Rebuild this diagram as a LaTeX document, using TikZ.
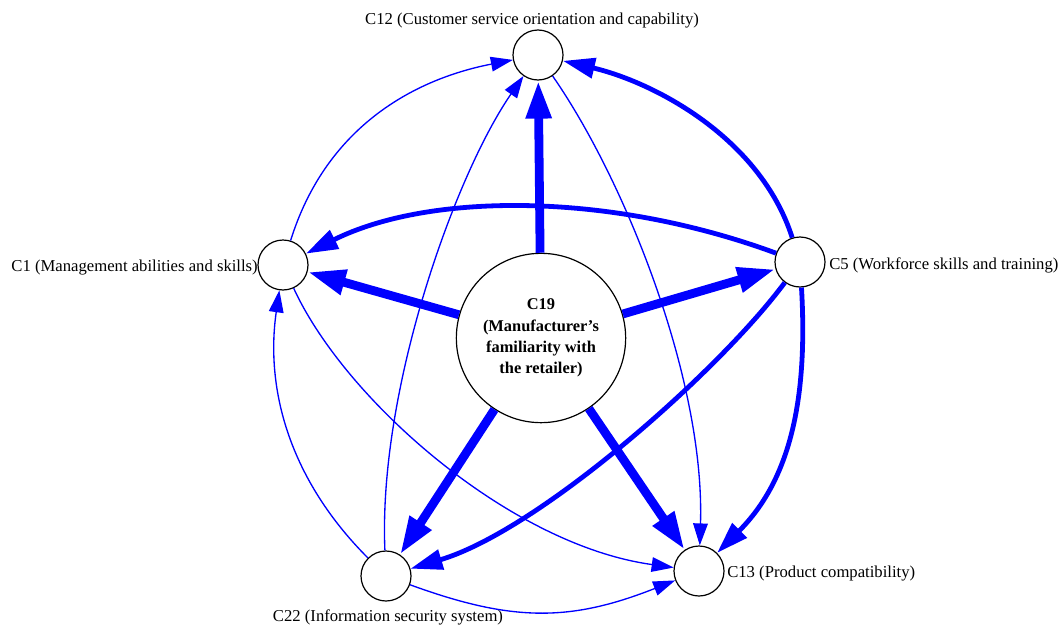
\documentclass[tikz,border=0pt]{standalone}
\usepackage{fontspec}
\setmainfont{Liberation Serif}
\usetikzlibrary{arrows.meta}

\tikzset{
  factor/.style={circle, draw=black, line width=0.9pt, fill=white, inner sep=0pt, minimum size=37.5pt},
  hub/.style={circle, draw=black, line width=0.9pt, fill=white, inner sep=0pt, minimum size=127pt, align=center, font=\fontsize{12.3}{16}\selectfont\bfseries},
  factorlabel/.style={inner sep=0.75pt, font=\fontsize{12.5}{15}\selectfont},
  lowlink/.style={draw=blue, line width=1pt, -{Triangle[length=16.5pt,width=11pt]}},
  midlink/.style={draw=blue, line width=3.6pt, -{Triangle[length=24pt,width=15pt]}},
  toplink/.style={draw=blue, line width=6.6pt, -{Triangle[length=28.5pt,width=18pt]}},
}

\begin{document}
\begin{tikzpicture}[x=0.75pt,y=0.75pt,yscale=-1,xscale=1]
    \useasboundingbox (0,0) rectangle (1064,628);

    % Factor circles
    \node [hub] (C19) at (541,338) {C19\\(Manufacturer's\\familiarity with\\the retailer)};
    \node [factor] (C12) at (538,55) {};
    \node [factor] (C1) at (283,265) {};
    \node [factor] (C5) at (800,262) {};
    \node [factor] (C22) at (386,576) {};
    \node [factor] (C13) at (699,571) {};

    % Text Nodes
    \node [factorlabel] (t12) at (532,21) {C12 (Customer service orientation and capability)};
    \node [factorlabel, anchor=east] (t1) at (259,268) {C1 (Management abilities and skills)};
    \node [factorlabel, anchor=west] (t5) at (828,265) {C5 (Workforce skills and training)};
    \node [factorlabel] (t22) at (388,617) {C22 (Information security system)};
    \node [factorlabel, anchor=west] (t13) at (726,574) {C13 (Product compatibility)};

    % Strong influence of C19
    \draw [toplink] (C19) -- (C12);
    \draw [toplink] (C19) -- (C1);
    \draw [toplink] (C19) -- (C5);
    \draw [toplink] (C19) -- (C22);
    \draw [toplink] (C19) -- (C13);

    % Influence of C5
    \draw [midlink] (C5) .. controls (760,137) and (653,82) .. (C12);
    \draw [midlink] (C5) .. controls (610,192) and (430,192) .. (C1);
    \draw [midlink] (C5) .. controls (720,370) and (540,530) .. (C22);
    \draw [midlink] (C5) .. controls (808,400) and (790,480) .. (C13);

    % Weak links
    \draw [lowlink] (C1) .. controls (325,130) and (410,80) .. (C12);
    \draw [lowlink] (C1) .. controls (345,400) and (510,545) .. (C13);
    \draw [lowlink] (C22) .. controls (290,480) and (265,390) .. (C1);
    \draw [lowlink] (C22) .. controls (378,390) and (455,175) .. (C12);
    \draw [lowlink] (C22) .. controls (512,622) and (570,622) .. (C13);
    \draw [lowlink] (C12) .. controls (625,180) and (705,380) .. (C13);

\end{tikzpicture}
\end{document}
